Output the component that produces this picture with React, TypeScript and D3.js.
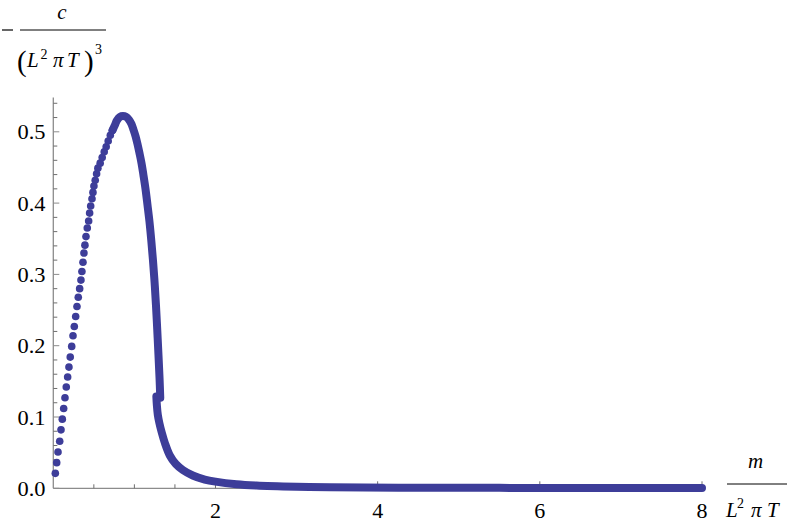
import React from "react";
import * as d3 from "d3";

// Sparse dots on the rising branch (m, c)
const sparseM = [0.025, 0.042, 0.058, 0.079, 0.095, 0.111, 0.128, 0.144, 0.160, 0.177, 0.193, 0.209, 0.227, 0.243, 0.259, 0.276, 0.292, 0.308, 0.325, 0.341, 0.353, 0.366, 0.378, 0.390, 0.403, 0.419, 0.436, 0.448, 0.461, 0.477, 0.489, 0.501, 0.517, 0.534, 0.550, 0.578, 0.603, 0.628, 0.652, 0.677, 0.703, 0.730];
const sparseC = [0.021, 0.036, 0.051, 0.066, 0.082, 0.097, 0.112, 0.127, 0.142, 0.156, 0.170, 0.184, 0.199, 0.214, 0.227, 0.241, 0.255, 0.268, 0.280, 0.292, 0.304, 0.317, 0.330, 0.341, 0.353, 0.365, 0.375, 0.386, 0.396, 0.406, 0.415, 0.424, 0.432, 0.441, 0.449, 0.456, 0.464, 0.472, 0.479, 0.487, 0.495, 0.502];

// Dense upper branch (through the peak, down to the jump)
const upperM = [0.730, 0.758, 0.785, 0.822, 0.859, 0.896, 0.933, 0.964, 0.989, 1.014, 1.038, 1.063, 1.088, 1.112, 1.137, 1.162, 1.186, 1.208, 1.229, 1.249, 1.266, 1.282, 1.297, 1.310, 1.319];
const upperC = [0.502, 0.509, 0.516, 0.521, 0.522, 0.521, 0.517, 0.511, 0.503, 0.494, 0.483, 0.470, 0.456, 0.439, 0.420, 0.397, 0.374, 0.348, 0.320, 0.289, 0.257, 0.222, 0.187, 0.155, 0.127];

// Dense lower branch (after the jump, decaying tail)
const lowerM = [1.271, 1.277, 1.289, 1.308, 1.339, 1.376, 1.437, 1.511, 1.597, 1.720, 1.868, 2.0, 2.259, 2.505, 2.998, 3.41, 4.27, 5.5, 6.73, 8.0];
const lowerC = [0.1288, 0.117, 0.103, 0.0916, 0.0776, 0.0635, 0.046, 0.034, 0.0257, 0.018, 0.0123, 0.0093, 0.0056, 0.0038, 0.0021, 0.0013, 0.0009, 0.0006, 0.0004, 0.0003];

const xMajorTicks = [2, 4, 6, 8];
const xTickLabels = ["2", "4", "6", "8"];
const yMajorTicks = [0, 0.1, 0.2, 0.3, 0.4, 0.5];
const yTickLabels = ["0.0", "0.1", "0.2", "0.3", "0.4", "0.5"];

const COLOR = "#3d3d99";
const FONT = "Liberation Serif, Times New Roman, serif";

export default function App() {
  const W = 789, H = 523;
  const x = d3.scaleLinear().domain([0, 8]).range([53.3, 702]);
  const y = d3.scaleLinear().domain([0, 0.5]).range([488.3, 131.8]);

  const xMinor = d3.range(1, 16).map((i) => i * 0.5).filter((v) => Math.abs(v / 2 - Math.round(v / 2)) > 1e-6);
  const yMinor = d3.range(1, 28).filter((i) => i % 5 !== 0).map((i) => i * 0.02);

  const line = d3
    .line<[number, number]>()
    .x((d) => x(d[0]))
    .y((d) => y(d[1]))
    .curve(d3.curveCatmullRom.alpha(0.5));

  const upper = upperM.map((m, i) => [m, upperC[i]] as [number, number]);
  const lower = lowerM.map((m, i) => [m, lowerC[i]] as [number, number]);

  const axisColor = "#8c8c8c";
  const tickColor = "#6e6e6e";
  const T = (props: any) => <text fontFamily={FONT} fill="#000" {...props} />;

  return (
    <svg width={W} height={H} style={{ position: "absolute", left: 0, top: 0, background: "#fff" }}>
      {/* axes */}
      <line x1={x(0)} x2={x(8)} y1={y(0)} y2={y(0)} stroke={axisColor} strokeWidth={1.3} />
      <line x1={x(0)} x2={x(0)} y1={y(0)} y2={y(0.548)} stroke={axisColor} strokeWidth={1.3} />

      {/* x ticks */}
      {xMajorTicks.map((v) => (
        <line key={"xM" + v} x1={x(v)} x2={x(v)} y1={y(0)} y2={y(0) - 7} stroke={tickColor} strokeWidth={1} />
      ))}
      {xMinor.map((v) => (
        <line key={"xm" + v} x1={x(v)} x2={x(v)} y1={y(0)} y2={y(0) - 4} stroke={tickColor} strokeWidth={1} />
      ))}
      {/* y ticks */}
      {yMajorTicks.map((v) => (
        <line key={"yM" + v} x1={x(0)} x2={x(0) + 6} y1={y(v)} y2={y(v)} stroke={axisColor} strokeWidth={1} />
      ))}
      {yMinor.map((v) => (
        <line key={"ym" + v} x1={x(0)} x2={x(0) + 4} y1={y(v)} y2={y(v)} stroke={tickColor} strokeWidth={1} />
      ))}

      {/* tick labels */}
      {xMajorTicks.map((v, i) => (
        <T key={"xl" + v} x={x(v)} y={518} fontSize={22} textAnchor="middle">
          {xTickLabels[i]}
        </T>
      ))}
      {yMajorTicks.map((v, i) => (
        <T key={"yl" + v} x={45.5} y={y(v) + 7.5} fontSize={22} textAnchor="end" textLength={28} lengthAdjust="spacingAndGlyphs">
          {yTickLabels[i]}
        </T>
      ))}

      {/* data */}
      <path d={line(upper) || ""} fill="none" stroke={COLOR} strokeWidth={8} strokeLinecap="round" strokeLinejoin="round" />
      <path d={line(lower) || ""} fill="none" stroke={COLOR} strokeWidth={8} strokeLinecap="round" strokeLinejoin="round" />
      {sparseM.map((m, i) => (
        <circle key={"p" + i} cx={x(m)} cy={y(sparseC[i])} r={3.8} fill={COLOR} />
      ))}

      {/* y axis title: - c / (L^2 pi T)^3 */}
      <line x1={2} x2={13} y1={30} y2={30} stroke="#000" strokeWidth={1.2} />
      <T x={62} y={19} fontSize={21} fontStyle="italic" textAnchor="middle">c</T>
      <line x1={20} x2={106} y1={30} y2={30} stroke="#000" strokeWidth={1} />
      <T x={17} y={71} fontSize={29}>(</T>
      <T x={27} y={67} fontSize={21} fontStyle="italic">L</T>
      <T x={40.5} y={59} fontSize={14}>2</T>
      <T x={53} y={67} fontSize={21} fontStyle="italic">π</T>
      <T x={67} y={67} fontSize={21} fontStyle="italic">T</T>
      <T x={84} y={71} fontSize={29}>)</T>
      <T x={95} y={54} fontSize={14}>3</T>

      {/* x axis title: m / (L^2 pi T) */}
      <T x={755.5} y={468} fontSize={21} fontStyle="italic" textAnchor="middle">m</T>
      <line x1={727} x2={787} y1={484} y2={484} stroke="#000" strokeWidth={1} />
      <T x={726} y={517} fontSize={21} fontStyle="italic">L</T>
      <T x={737} y={508} fontSize={14}>2</T>
      <T x={751} y={517} fontSize={21} fontStyle="italic">π</T>
      <T x={767} y={517} fontSize={21} fontStyle="italic">T</T>
    </svg>
  );
}
